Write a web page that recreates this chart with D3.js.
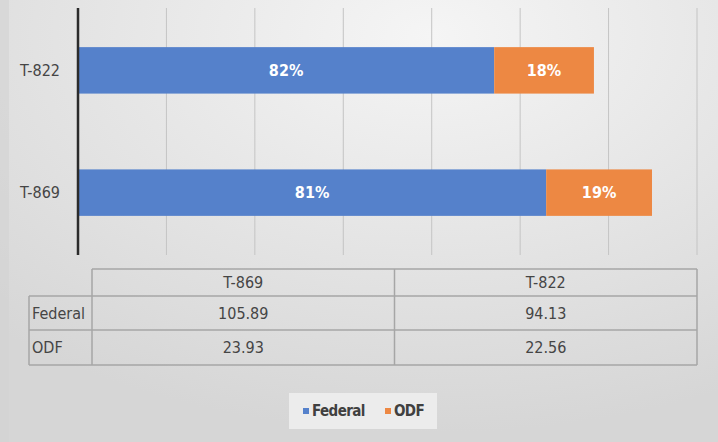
<!DOCTYPE html>
<html>
<head>
<meta charset="utf-8">
<script src="https://cdn.jsdelivr.net/npm/d3@7"></script>
<style>
  html, body { margin: 0; padding: 0; }
  body { width: 718px; height: 442px; overflow: hidden; }
  text { font-family: "Liberation Sans Narrow", "DejaVu Sans Condensed", sans-serif; }
</style>
</head>
<body>
<div id="chart"></div>
<script>
// DATA
const categories = ["T-869", "T-822"];
const seriesNames = ["Federal", "ODF"];
const federal = [105.89, 94.13];
const odf = [23.93, 22.56];
// percent labels as printed on the bars
const federalPct = ["81%", "82%"];
const odfPct = ["19%", "18%"];
const xTicks = [0, 20, 40, 60, 80, 100, 120, 140];

const colors = { Federal: "#5581cb", ODF: "#ed8843" };

// SVG SETUP
const width = 718, height = 442;
const svg = d3.select("#chart").append("svg")
    .attr("width", width)
    .attr("height", height);

// background gradient
const defs = svg.append("defs");
const grad = defs.append("radialGradient")
    .attr("id", "bg")
    .attr("cx", "60%").attr("cy", "8%").attr("r", "90%");
grad.append("stop").attr("offset", "0%").attr("stop-color", "#f5f5f5");
grad.append("stop").attr("offset", "100%").attr("stop-color", "#d6d6d6");

svg.append("rect")
    .attr("width", width).attr("height", height)
    .attr("fill", "url(#bg)");
svg.append("rect")
    .attr("width", 9).attr("height", height)
    .attr("fill", "#d2d2d2").attr("opacity", 0.6);

// SCALES
const plot = { left: 78, right: 697, top: 8, bottom: 255 };

const x = d3.scaleLinear()
    .domain([0, d3.max(xTicks)])
    .range([plot.left, plot.right]);

const y = d3.scaleBand()
    .domain(categories.slice().reverse())
    .range([plot.top, plot.bottom])
    .paddingInner(0.62)
    .paddingOuter(0.32);

// gridlines
svg.append("g")
    .selectAll("line")
    .data(xTicks.slice(1))
    .join("line")
      .attr("x1", d => x(d)).attr("x2", d => x(d))
      .attr("y1", plot.top).attr("y2", plot.bottom)
      .attr("stroke", "#c4c4c4")
      .attr("stroke-width", 1);

// stacked bars
const rows = categories.map((c, i) => ({
  category: c,
  Federal: federal[i],
  ODF: odf[i],
  FederalPct: federalPct[i],
  ODFPct: odfPct[i]
}));
const stacked = d3.stack().keys(seriesNames)(rows);

const layers = svg.append("g")
  .selectAll("g")
  .data(stacked)
  .join("g")
    .attr("fill", d => colors[d.key]);

layers.selectAll("rect")
  .data(d => d)
  .join("rect")
    .attr("x", d => x(d[0]))
    .attr("y", d => y(d.data.category))
    .attr("width", d => x(d[1]) - x(d[0]))
    .attr("height", y.bandwidth());

// segment labels
layers.each(function(layer) {
  d3.select(this).selectAll("text")
    .data(layer)
    .join("text")
      .attr("x", d => (x(d[0]) + x(d[1])) / 2)
      .attr("y", d => y(d.data.category) + y.bandwidth() / 2)
      .attr("dy", "0.36em")
      .attr("text-anchor", "middle")
      .attr("fill", "#ffffff")
      .attr("font-weight", "bold")
      .attr("font-size", 16)
      .text(d => d.data[layer.key + "Pct"]);
});

// y axis line and category labels
svg.append("line")
    .attr("x1", x(0)).attr("x2", x(0))
    .attr("y1", plot.top).attr("y2", plot.bottom)
    .attr("stroke", "#2b2b2b")
    .attr("stroke-width", 2.5);

svg.append("g")
  .selectAll("text")
  .data(categories)
  .join("text")
    .attr("x", 60)
    .attr("y", d => y(d) + y.bandwidth() / 2)
    .attr("dy", "0.36em")
    .attr("text-anchor", "end")
    .attr("fill", "#454545")
    .attr("font-size", 16)
    .text(d => d);

// DATA TABLE
const table = { labelLeft: 29, left: 92, right: 697, rowY: [269, 296, 330, 365] };
const colX = d3.scaleBand()
    .domain(categories)
    .range([table.left, table.right]);

const tg = svg.append("g")
    .attr("stroke", "#a6a6a6")
    .attr("stroke-width", 1.5)
    .attr("fill", "none");

// horizontal lines
tg.append("line")
    .attr("x1", table.left).attr("x2", table.right)
    .attr("y1", table.rowY[0]).attr("y2", table.rowY[0]);
table.rowY.slice(1).forEach(yy => {
  tg.append("line")
      .attr("x1", table.labelLeft).attr("x2", table.right)
      .attr("y1", yy).attr("y2", yy);
});
// vertical lines
tg.append("line")
    .attr("x1", table.labelLeft).attr("x2", table.labelLeft)
    .attr("y1", table.rowY[1]).attr("y2", table.rowY[3]);
categories.forEach(c => {
  tg.append("line")
      .attr("x1", colX(c)).attr("x2", colX(c))
      .attr("y1", table.rowY[0]).attr("y2", table.rowY[3]);
});
tg.append("line")
    .attr("x1", table.right).attr("x2", table.right)
    .attr("y1", table.rowY[0]).attr("y2", table.rowY[3]);

const cellText = svg.append("g")
    .attr("fill", "#454545")
    .attr("font-size", 16);

const midRow = i => (table.rowY[i] + table.rowY[i + 1]) / 2;

// header
categories.forEach(c => {
  cellText.append("text")
      .attr("x", colX(c) + colX.bandwidth() / 2)
      .attr("y", midRow(0))
      .attr("dy", "0.36em")
      .attr("text-anchor", "middle")
      .text(c);
});

// rows
const tableSeries = [federal, odf];
seriesNames.forEach((name, r) => {
  cellText.append("text")
      .attr("x", table.labelLeft + 3)
      .attr("y", midRow(r + 1))
      .attr("dy", "0.36em")
      .text(name);
  categories.forEach((c, i) => {
    cellText.append("text")
        .attr("x", colX(c) + colX.bandwidth() / 2)
        .attr("y", midRow(r + 1))
        .attr("dy", "0.36em")
        .attr("text-anchor", "middle")
        .text(d3.format(".2f")(tableSeries[r][i]));
  });
});

// LEGEND
const legend = svg.append("g");
legend.append("rect")
    .attr("x", 289).attr("y", 393)
    .attr("width", 148).attr("height", 36)
    .attr("fill", "#ececec");

const legendX = d3.scaleOrdinal()
    .domain(seriesNames)
    .range([303, 385]);

const items = legend.selectAll("g")
  .data(seriesNames)
  .join("g")
    .attr("transform", d => `translate(${legendX(d)},411)`);

items.append("rect")
    .attr("x", 0).attr("y", -3)
    .attr("width", 6).attr("height", 6)
    .attr("fill", d => colors[d]);

items.append("text")
    .attr("x", 9)
    .attr("dy", "0.36em")
    .attr("fill", "#404040")
    .attr("font-weight", "bold")
    .attr("font-size", 15)
    .attr("letter-spacing", -0.6)
    .text(d => d);
</script>
</body>
</html>
